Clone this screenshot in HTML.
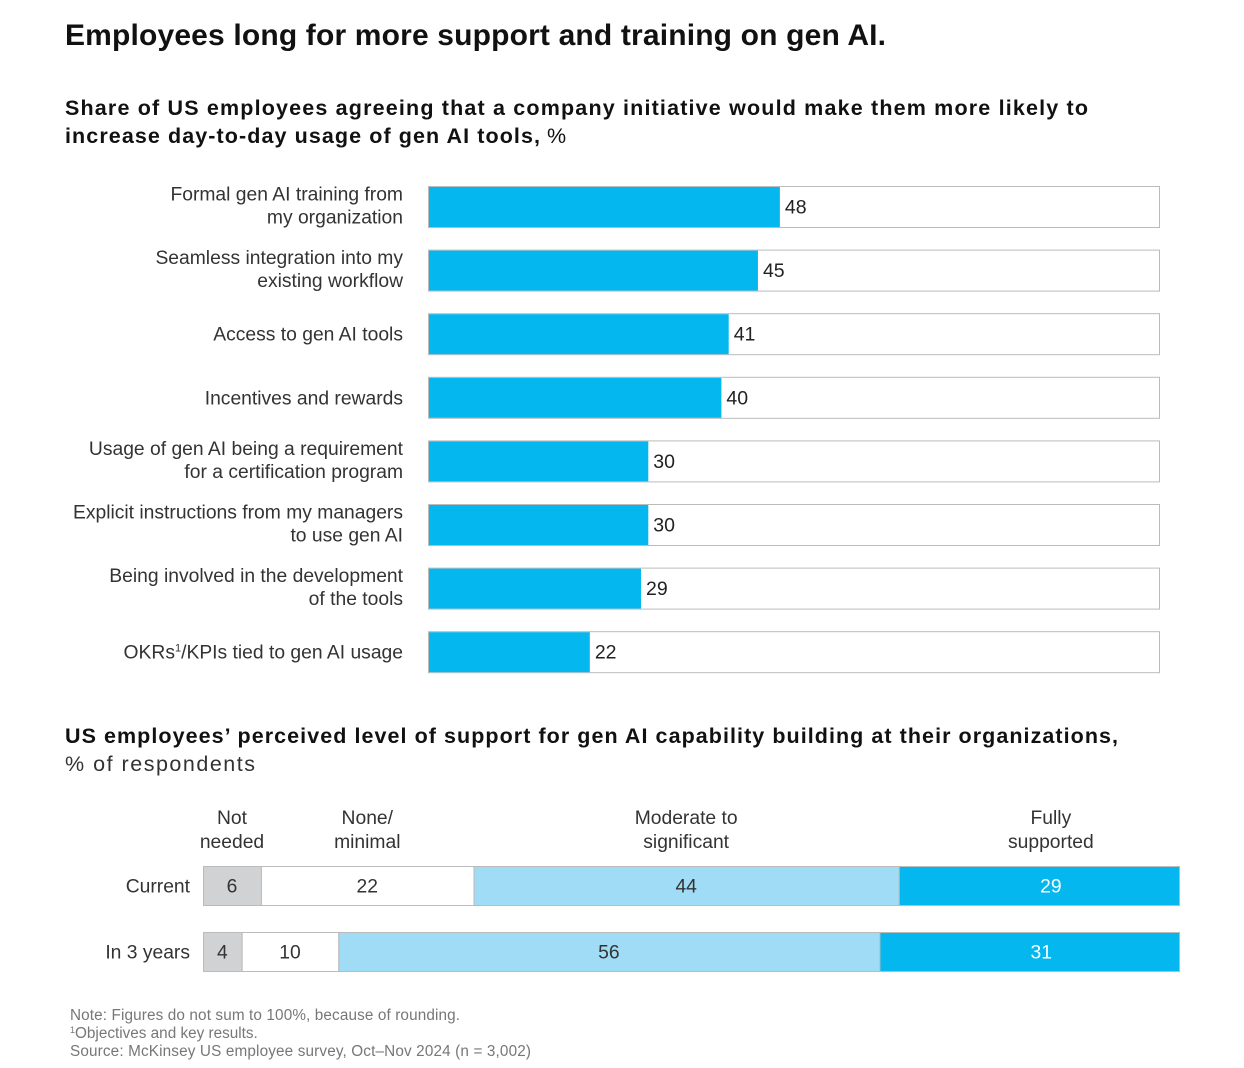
<!DOCTYPE html>
<html><head><meta charset="utf-8"><style>
body{margin:0;background:#fff;width:1244px;height:1068px;overflow:hidden;font-family:"Liberation Sans",sans-serif;color:#222}
svg{position:absolute;left:0;top:0}
</style></head><body>
<svg id="c" width="1244" height="1068" font-family="Liberation Sans, sans-serif">
<text x="65" y="45" font-size="30" font-weight="bold" fill="#111" textLength="821">Employees long for more support and training on gen AI.</text>
<text x="65" y="115" font-size="21.5" font-weight="bold" fill="#111" textLength="1023">Share of US employees agreeing that a company initiative would make them more likely to</text>
<text x="65" y="143" font-size="21.5" font-weight="bold" fill="#111"><tspan textLength="475">increase day-to-day usage of gen AI tools,</tspan><tspan font-weight="normal"> %</tspan></text>
<text x="65" y="743" font-size="21.5" font-weight="bold" fill="#111" textLength="1053">US employees’ perceived level of support for gen AI capability building at their organizations,</text>
<text x="65" y="771" font-size="21.5" fill="#333" textLength="190">% of respondents</text>
<g font-size="15.3" fill="#777">
<text x="70" y="1020" textLength="390">Note: Figures do not sum to 100%, because of rounding.</text>
<text x="70" y="1038"><tspan font-size="9" dy="-5">1</tspan><tspan dy="5">Objectives and key results.</tspan></text>
<text x="70" y="1056" textLength="461">Source: McKinsey US employee survey, Oct–Nov 2024 (n = 3,002)</text>
</g>
</svg>
<script>
const categories=[["Formal gen AI training from","my organization"],["Seamless integration into my","existing workflow"],["Access to gen AI tools"],["Incentives and rewards"],["Usage of gen AI being a requirement","for a certification program"],["Explicit instructions from my managers","to use gen AI"],["Being involved in the development","of the tools"],["OKRS_KPI"]];
const values=[48,45,41,40,30,30,29,22];
const rows=["Current","In 3 years"];
const segNames=[["Not","needed"],["None/","minimal"],["Moderate to","significant"],["Fully","supported"]];
const current=[6,22,44,29];
const in3years=[4,10,56,31];
const segColors=["#d0d2d4","#ffffff","#a0dcf5","#05b7ef"];
const segText=["#333","#333","#333","#fff"];
const NS="http://www.w3.org/2000/svg";
const svg=document.getElementById('c');
function mk(t,a,p){const e=document.createElementNS(NS,t);for(const k in a)e.setAttribute(k,a[k]);(p||svg).appendChild(e);return e;}
const x0=428,x1=1159;const xs=v=>x0+(x1-x0)*v/100;
const y0=186,pitch=63.6,bh=41;const ys=i=>y0+i*pitch;
values.forEach((v,i)=>{
 const y=ys(i);
 const bg=mk('rect',{x:x0+0.5,y:y+0.5,width:x1-x0,height:bh,fill:'#fff',stroke:'#bbb','stroke-width':1});
 
 
 const r=mk('rect',{x:x0+1,y:y+1,width:xs(v)-x0,height:bh-1,fill:'#05b7ef'});
 
 
 const t=mk('text',{x:xs(v)+6,y:y+bh/2+7,'font-size':19.5,fill:'#222'});t.textContent=v;
 
 
 const c=categories[i];
 const l=mk('text',{'text-anchor':'end','font-size':19.3,fill:'#333'});
 
 
 if(c[0]==="OKRS_KPI"){
  l.setAttribute('x',403);l.setAttribute('y',y+bh/2+7);
  l.innerHTML='OKRs<tspan font-size="11" dy="-7">1</tspan><tspan dy="7">/KPIs tied to gen AI usage</tspan>';
 } else if(c.length===1){
  l.setAttribute('x',403);l.setAttribute('y',y+bh/2+7);l.textContent=c[0];
 } else {
  c.forEach((s,j)=>{const ts=mk('tspan',{x:403,y:y+bh/2-6+j*23},l);ts.textContent=s;});
 }
});
const bx0=203,bx1=1179;const total=101;const bs=v=>(bx1-bx0)*v/total;
const rowY=[866,932],rh=39;
[current,in3years].forEach((arr,ri)=>{
 let x=bx0;const y=rowY[ri];
 const lab=mk('text',{x:190,y:y+rh/2+7,'text-anchor':'end','font-size':19.3,fill:'#333'});lab.textContent=rows[ri];
 
 
 arr.forEach((v,si)=>{
  const w=bs(v);
  const r=mk('rect',{x:x+0.5,y:y+0.5,width:w,height:rh,fill:segColors[si],stroke:'#bbb','stroke-width':1});
  
  
  const cx=si===3?x+w/2+12:x+w/2;
  const t=mk('text',{x:cx,y:y+rh/2+7,'text-anchor':'middle','font-size':19.3,fill:segText[si]});t.textContent=v;
  
  
  if(ri===0){
   const h=mk('text',{'text-anchor':'middle','font-size':19.3,fill:'#333'});
   
   
   segNames[si].forEach((s,j)=>{const ts=mk('tspan',{x:cx,y:824+j*24},h);ts.textContent=s;});
  }
  x+=w;
 });
});
</script>
</body></html>
